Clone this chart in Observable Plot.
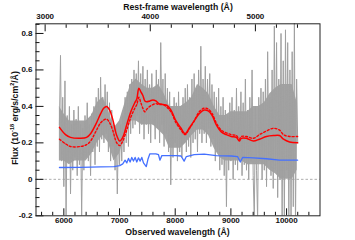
<!DOCTYPE html>
<html><head><meta charset="utf-8">
<script src="https://cdn.jsdelivr.net/npm/d3@7"></script>
<script src="https://cdn.jsdelivr.net/npm/@observablehq/plot@0.6"></script>
<style>body{margin:0;background:#fff}svg{display:block}</style>
</head><body><div id="chart"></div>
<script>
// Observed spectrum (grey), sampled every 20 Å starting at 5920 Å
const greyStart = 5920, greyStep = 20;
const greyFlux = [
 0.30,0.68,0.10,0.45,-0.04,
 0.54,-0.20,0.35,0.10,0.40,
 -0.08,0.30,0.05,0.38,0.12,
 0.33,0.02,0.40,0.08,0.30,
 -0.20,0.28,0.05,0.35,0.12,
 0.42,0.10,0.30,0.02,0.36,
 0.15,0.40,0.08,0.45,0.18,
 0.50,0.15,0.56,0.22,0.45,
 0.20,0.52,0.25,0.48,0.15,
 0.42,0.10,0.38,0.18,0.30,
 0.05,0.28,-0.08,0.25,0.08,
 0.30,0.10,0.35,0.15,0.45,
 0.20,0.48,0.18,0.52,0.25,
 0.55,0.28,0.60,0.30,0.58,
 0.35,0.65,0.25,0.58,0.30,
 0.62,0.22,0.55,0.30,0.60,
 0.25,0.52,0.20,0.58,0.30,
 0.50,0.22,0.60,0.28,0.55,
 0.20,0.75,0.30,0.55,0.18,
 0.58,0.25,0.50,0.15,0.48,
 -0.03,0.40,0.12,0.45,0.20,
 0.42,0.10,0.48,0.15,0.40,
 0.12,0.45,0.20,0.50,0.15,
 0.52,0.18,0.45,0.12,0.55,
 0.20,0.58,0.22,0.50,0.15,
 0.60,0.25,0.73,0.20,0.55,
 0.25,0.62,0.20,0.55,0.28,
 0.58,0.18,0.52,0.22,0.48,
 0.10,0.45,0.15,0.50,0.05,
 0.40,0.08,0.45,0.02,0.38,
 -0.15,0.35,0.05,0.42,0.10,
 0.45,0.00,0.38,0.08,0.50,
 0.05,0.40,0.10,0.48,0.02,
 0.42,0.08,0.55,0.05,0.38,
 0.00,0.45,0.10,0.60,0.02,
 -0.22,0.40,0.05,-0.22,0.45,
 0.10,0.50,0.00,0.48,0.05,
 0.55,-0.04,0.70,0.10,0.45,
 0.02,0.60,-0.05,0.84,0.05,
 0.75,-0.10,0.55,0.00,0.80,
 -0.25,0.65,-0.25,0.82,0.05,
 0.75,-0.25,0.60,-0.25,0.70,
 -0.15,0.86,-0.25,0.55,0.20
];
// Dense core of the grey spectrum (low / high edges)
const coreWave = [5920,6000,6100,6200,6300,6400,6500,6600,6700,6800,6900,7000,7100,7200,7300,7400,7500,7600,7700,7800,7900,8000,8100,8200,8300,8400,8500,8600,8700,8800,8900,9000,9100,9200,9300,9400,9500,9600,9700,9800,9900,10000,10100,10190];
const coreLow  = [0.10,0.10,0.08,0.10,0.10,0.10,0.14,0.20,0.24,0.20,0.10,0.14,0.24,0.32,0.32,0.30,0.30,0.30,0.27,0.24,0.17,0.17,0.17,0.20,0.24,0.27,0.27,0.24,0.17,0.12,0.10,0.10,0.10,0.10,0.08,0.08,0.08,0.08,0.05,0.03,0.00,0.00,0.00,0.05];
const coreHigh = [0.40,0.36,0.32,0.32,0.32,0.32,0.35,0.42,0.45,0.38,0.28,0.32,0.42,0.52,0.55,0.52,0.50,0.50,0.52,0.47,0.40,0.40,0.40,0.42,0.45,0.52,0.50,0.47,0.40,0.35,0.35,0.37,0.37,0.37,0.37,0.40,0.40,0.42,0.47,0.50,0.52,0.52,0.52,0.42];
// Model fits (red solid / red dotted)
const modelWave = [5921,6030,6119,6300,6408,6480,6571,6661,6715,6769,6823,6877,6950,7004,7058,7130,7202,7274,7310,7347,7383,7419,7455,7491,7545,7599,7653,7707,7780,7852,7924,8014,8105,8177,8249,8340,8430,8520,8592,8664,8736,8827,8917,9007,9097,9151,9187,9278,9404,9512,9638,9765,9873,9945,10053,10198];
const modelSolid = [0.285,0.245,0.23,0.225,0.23,0.25,0.30,0.36,0.39,0.40,0.38,0.33,0.24,0.21,0.23,0.30,0.37,0.42,0.44,0.50,0.48,0.46,0.43,0.425,0.43,0.435,0.43,0.415,0.41,0.405,0.38,0.32,0.28,0.25,0.28,0.32,0.36,0.38,0.375,0.35,0.30,0.26,0.245,0.235,0.23,0.21,0.225,0.225,0.21,0.22,0.235,0.24,0.24,0.22,0.205,0.20];
const modelDotted = [0.22,0.195,0.18,0.18,0.19,0.21,0.26,0.31,0.325,0.33,0.31,0.27,0.20,0.185,0.21,0.27,0.34,0.39,0.41,0.45,0.42,0.39,0.37,0.385,0.40,0.41,0.415,0.41,0.41,0.395,0.37,0.31,0.27,0.245,0.275,0.32,0.37,0.39,0.385,0.36,0.31,0.27,0.255,0.245,0.24,0.22,0.235,0.235,0.225,0.245,0.265,0.28,0.27,0.245,0.235,0.235];
// Blue component
const blueWave = [5921,6300,6661,6900,7004,7058,7100,7130,7160,7190,7220,7250,7280,7310,7340,7370,7400,7430,7480,7510,7545,7599,7653,7700,7725,7760,7852,8014,8105,8160,8200,8340,8520,8736,9007,9120,9169,9210,9404,9638,9873,10198];
const blueFlux = [0.065,0.066,0.068,0.07,0.075,0.085,0.105,0.09,0.115,0.095,0.12,0.10,0.12,0.095,0.118,0.10,0.12,0.09,0.07,0.11,0.14,0.14,0.14,0.135,0.105,0.13,0.13,0.13,0.128,0.10,0.125,0.135,0.138,0.13,0.128,0.125,0.095,0.12,0.118,0.113,0.105,0.105];
// Axes
const onePlusZ = 1.888;
const obsTicks = [6000,7000,8000,9000,10000];
const obsMinor = [5600,5800,6200,6400,6600,6800,7200,7400,7600,7800,8200,8400,8600,8800,9200,9400,9600,9800,10200,10400];
const restTicks = [3000,4000,5000];
const restMinor = [3200,3400,3600,3800,4200,4400,4600,4800,5200,5400];
const yTicks = [-0.2,0,0.2,0.4,0.6,0.8];
const yMinor = [-0.15,-0.1,-0.05,0.05,0.1,0.15,0.25,0.3,0.35,0.45,0.5,0.55,0.65,0.7,0.75,0.85];

const grey = greyFlux.map((f,i)=>({w: greyStart + greyStep*i, f}));
const core = coreWave.map((w,i)=>({w, lo: coreLow[i], hi: coreHigh[i]}));
const solid = modelWave.map((w,i)=>({w, f: modelSolid[i]}));
const dotted = modelWave.map((w,i)=>({w, f: modelDotted[i]}));
const blue = blueWave.map((w,i)=>({w, f: blueFlux[i]}));

const font = "'Liberation Sans', Arial, sans-serif";
const plot = Plot.plot({
  width: 355, height: 240,
  marginLeft: 35.5, marginRight: 35.5, marginTop: 23.3, marginBottom: 24.7,
  style: {fontFamily: font, fontWeight: "bold", fontSize: "8px", color: "#111", background: "#fff"},
  x: {domain: [5500, 10600]},
  y: {domain: [-0.2, 0.853]},
  marks: [
    Plot.ruleY([0], {stroke: "#999", strokeDasharray: "2.5,2", strokeWidth: 0.8}),
    Plot.areaY(core, {x: "w", y1: "lo", y2: "hi", fill: "#a4a4a4"}),
    Plot.line(grey, {x: "w", y: "f", stroke: "#a0a0a0", strokeWidth: 1, clip: true}),
    Plot.line(blue, {x: "w", y: "f", stroke: "#4470ff", strokeWidth: 1.3}),
    Plot.line(dotted, {x: "w", y: "f", stroke: "#ff0000", strokeWidth: 1.4, strokeDasharray: "2,2", curve: "catmull-rom"}),
    Plot.line(solid, {x: "w", y: "f", stroke: "#ff0000", strokeWidth: 1.5, curve: "catmull-rom"}),
    Plot.axisX({anchor: "bottom", ticks: obsMinor, tickSize: -3.5, tickFormat: () => "", label: null}),
    Plot.axisX({anchor: "bottom", ticks: obsTicks, tickSize: -7, tickPadding: 9, tickFormat: d => String(d), label: null}),
    Plot.axisX({anchor: "top", ticks: restMinor.map(r => r*onePlusZ), tickSize: -3.5, tickFormat: () => "", label: null}),
    Plot.axisX({anchor: "top", ticks: restTicks.map(r => r*onePlusZ), tickSize: -7, tickPadding: 12, tickFormat: d => String(Math.round(d/onePlusZ)), label: null}),
    Plot.axisY({anchor: "left", ticks: yMinor, tickSize: -4, tickFormat: () => "", label: null}),
    Plot.axisY({anchor: "left", ticks: yTicks, tickSize: -8, tickPadding: 11.5, tickFormat: d => d === 0 ? "0" : d.toFixed(1), label: null}),
    Plot.frame({stroke: "#222"})
  ]
});
const svg = d3.select(plot);
const lab = (x, y, t) => svg.append("text").attr("x", x).attr("y", y).attr("text-anchor", "middle")
  .style("font", `bold 8.7px ${font}`).attr("fill", "#111").text(t);
lab(177.5, 234.5, "Observed wavelength (Å)");
lab(178, 9.5, "Rest-frame wavelength (Å)");
const yl = svg.append("text").attr("transform", "translate(17.5,118) rotate(-90)").attr("text-anchor", "middle")
  .style("font", `bold 8.7px ${font}`).attr("fill", "#111");
yl.append("tspan").text("Flux (10");
yl.append("tspan").attr("dy", -3.5).style("font-size", "5.5px").text("-18");
yl.append("tspan").attr("dy", 3.5).text(" erg/s/cm");
yl.append("tspan").attr("dy", -3.5).style("font-size", "5.5px").text("2");
yl.append("tspan").attr("dy", 3.5).text("/Å)");
document.getElementById("chart").append(plot);
</script>
</body></html>
